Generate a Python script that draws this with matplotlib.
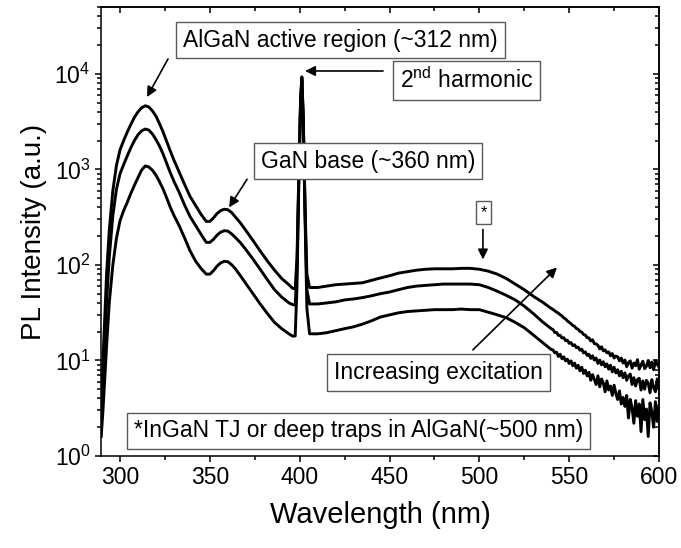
"""PL spectra of AlGaN structure vs excitation (log scale)"""
import numpy as np
import matplotlib
matplotlib.use('Agg')
import matplotlib.pyplot as plt
from matplotlib.ticker import MultipleLocator, LogLocator, NullFormatter

plt.rcParams['font.family'] = ['Liberation Sans', 'DejaVu Sans']
plt.rcParams['mathtext.fontset'] = 'custom'
plt.rcParams['mathtext.rm'] = 'Liberation Sans'
plt.rcParams['mathtext.it'] = 'Liberation Sans:italic'
plt.rcParams['mathtext.bf'] = 'Liberation Sans:bold'

# wavelength grid (nm), smooth part
wl_main = [289.5, 290.5, 291.5, 292.5, 294, 296, 298, 300, 302, 304, 306, 308,
           310, 312, 314, 316, 318, 320, 322, 324, 326, 328, 330, 333, 336,
           339, 342, 345, 348, 350, 352, 354, 356, 358, 360, 362, 364, 367,
           370, 374, 378, 382, 386, 390, 394, 396, 397.5, 398.5, 399.5, 400.5,
           401.2, 402, 403, 404, 405.5, 410, 415, 420, 425, 430, 435, 440,
           445, 450, 455, 460, 465, 470, 475, 480, 485, 490, 495, 500, 505,
           510, 515, 520, 525, 530, 535, 540]
# noisy tail 541..600 nm, 1 nm steps
wl_tail = list(np.arange(541, 601))

high_main = [3.5, 10, 30, 80, 230, 600, 1100, 1600, 2000, 2450, 2950, 3500,
             4000, 4400, 4630, 4500, 4100, 3600, 3000, 2450, 1950, 1550, 1250,
             930, 690, 520, 420, 340, 285, 285, 310, 345, 370, 382, 378, 355,
             320, 275, 230, 180, 140, 110, 88, 72, 62, 57, 56, 120, 900, 5500,
             9300, 3500, 400, 80, 58, 58, 60, 62, 63, 64, 65, 69, 73, 77, 82,
             85, 88, 90, 91, 91, 91, 92, 92, 90, 86, 80, 72, 63, 55, 47, 41, 35]
high_tail = [34.2, 33.0, 32.1, 31.2, 30.1, 29.2, 27.9, 27.2, 25.9, 25.1,
             24.3, 23.2, 22.8, 21.6, 21.2, 20.1, 19.8, 18.7, 18.4, 17.3,
             17.2, 16.0, 16.5, 15.0, 14.9, 14.4, 13.2, 13.9, 12.6, 12.9,
             12.0, 12.3, 11.2, 11.8, 10.6, 11.1, 10.9, 9.9, 10.6, 9.4,
             10.1, 8.6, 9.5, 9.9, 8.3, 9.4, 8.8, 10.2, 8.1, 9.0,
             9.8, 8.2, 8.7, 10.0, 8.4, 9.6, 8.0, 9.9, 9.3, 8.5]

mid_main = [2.5, 6, 16, 40, 120, 330, 620, 900, 1120, 1380, 1680, 2000,
            2300, 2530, 2640, 2580, 2350, 2050, 1750, 1440, 1150, 920, 750,
            570, 420, 320, 260, 210, 172, 172, 185, 205, 220, 228, 226, 212,
            195, 171, 145, 115, 90, 70, 55, 46, 40, 38.5, 38, 90, 800, 5200,
            9000, 3300, 350, 55, 39, 39, 40, 41, 43, 44, 45.5, 47.5, 50, 52,
            55, 58, 60, 61, 62, 63, 63, 63, 63, 62, 58, 53, 48, 43, 37, 31,
            25.5, 21.5]
mid_tail = [21.0, 19.6, 19.6, 18.3, 18.3, 17.2, 17.3, 16.1, 16.3, 15.1,
            15.4, 14.3, 14.6, 13.6, 13.8, 12.8, 13.1, 12.0, 12.3, 11.3,
            11.6, 10.5, 11.2, 10.1, 10.6, 9.3, 10.1, 9.0, 9.7, 8.6,
            9.2, 8.1, 8.9, 7.6, 8.5, 7.4, 8.0, 6.9, 7.7, 6.6,
            7.4, 6.2, 6.9, 7.2, 5.6, 6.6, 5.4, 6.3, 6.5, 4.9,
            6.1, 5.0, 6.2, 5.8, 4.6, 6.3, 5.2, 4.7, 6.4, 5.1]

low_main = [1.6, 3, 6.5, 14, 40, 100, 190, 290, 370, 450, 560, 680,
            820, 980, 1086, 1060, 980, 870, 740, 620, 500, 400, 330, 255,
            190, 140, 110, 92, 80, 80, 87, 97, 105, 109, 108, 101, 92, 77,
            64, 50, 39, 31, 25, 21.5, 19, 18, 18, 60, 700, 4900, 8600, 3100,
            300, 35, 19, 19, 19.5, 20.5, 21.5, 22.5, 24, 26, 28.5, 30, 31.5,
            32.5, 33, 33.5, 34, 34, 34, 34.5, 34, 34, 32, 30, 28, 25, 22,
            18.5, 15.5, 13]
low_tail = [12.9, 12.0, 12.2, 11.0, 11.6, 10.4, 10.9, 9.9, 10.3, 9.3,
            9.9, 8.8, 9.4, 8.3, 8.9, 7.8, 8.5, 7.3, 7.9, 6.9,
            7.5, 6.2, 7.1, 6.3, 5.6, 6.9, 5.3, 6.4, 5.8, 4.7,
            6.1, 4.9, 5.4, 4.3, 5.5, 4.5, 3.9, 4.8, 3.5, 4.1,
            3.3, 4.3, 2.5, 3.9, 3.2, 2.2, 3.8, 2.6, 3.5, 1.8,
            3.9, 2.4, 3.1, 1.6, 3.6, 2.9, 2.0, 3.7, 2.3, 3.4]


def plot_spectra():
    fig = plt.figure(figsize=(6.81, 5.48), dpi=100)
    ax = fig.add_axes([0.1483, 0.1679, 0.8194, 0.8193])

    wl = wl_main + wl_tail
    for s_main, s_tail in [(low_main, low_tail), (mid_main, mid_tail),
                           (high_main, high_tail)]:
        ax.plot(wl, s_main + s_tail, color='k', lw=2.1, zorder=2)

    ax.set_yscale('log')
    ax.set_xlim(289.4, 600)
    ax.set_ylim(1, 5e4)
    ax.xaxis.set_major_locator(MultipleLocator(50))
    ax.xaxis.set_minor_locator(MultipleLocator(25))
    ax.yaxis.set_major_locator(LogLocator(base=10))
    ax.yaxis.set_minor_locator(LogLocator(base=10, subs=range(2, 10)))
    ax.yaxis.set_minor_formatter(NullFormatter())
    ax.tick_params(which='both', direction='out', width=1.1, labelsize=16.5,
                   top=False, right=False)
    ax.tick_params(which='major', length=4.5, pad=3)
    ax.tick_params(which='minor', length=2.8)
    for sp in ax.spines.values():
        sp.set_linewidth(1.1)

    # mirrored axes with inward ticks
    top = ax.secondary_xaxis('top')
    top.xaxis.set_major_locator(MultipleLocator(50))
    top.xaxis.set_minor_locator(MultipleLocator(25))
    top.tick_params(which='both', direction='in', width=1.1, labeltop=False)
    top.tick_params(which='major', length=4.5)
    top.tick_params(which='minor', length=2.8)
    right = ax.secondary_yaxis('right')
    right.yaxis.set_major_locator(LogLocator(base=10))
    right.yaxis.set_minor_locator(LogLocator(base=10, subs=range(2, 10)))
    right.tick_params(which='both', direction='in', width=1.1, labelright=False)
    right.tick_params(which='major', length=4.5)
    right.tick_params(which='minor', length=2.8)
    for sec in (top, right):
        for sp in sec.spines.values():
            sp.set_linewidth(1.1)

    ax.set_xlabel('Wavelength (nm)', fontsize=21, labelpad=8)
    ax.set_ylabel('PL Intensity (a.u.)', fontsize=20, labelpad=5)

    box = dict(boxstyle='square,pad=0.3', fc='white', ec='0.35', lw=1)
    arw = dict(arrowstyle='-|>', color='k', lw=1.2, mutation_scale=15,
               shrinkA=0, shrinkB=0)
    fs = 16.5

    ax.text(0.429, 0.9265, 'AlGaN active region (~312 nm)', transform=ax.transAxes,
            ha='center', va='center', fontsize=fs, bbox=box, zorder=5)
    ax.annotate('', xy=(315.0, 5710), xytext=(326.7, 14300), arrowprops=arw, zorder=6)

    ax.text(0.655, 0.8363, r'2$^{\mathrm{nd}}$ harmonic', transform=ax.transAxes,
            ha='center', va='center', fontsize=fs, bbox=box, zorder=5)
    ax.annotate('', xy=(403.0, 10700), xytext=(446.4, 10700), arrowprops=arw, zorder=6)

    ax.text(0.4785, 0.657, 'GaN base (~360 nm)', transform=ax.transAxes,
            ha='center', va='center', fontsize=fs, bbox=box, zorder=5)
    ax.annotate('', xy=(360.7, 400), xytext=(370.7, 787), arrowprops=arw, zorder=6)

    ax.text(0.686, 0.5423, '*', transform=ax.transAxes, ha='center', va='center',
            fontsize=12, bbox=dict(boxstyle='square,pad=0.25', fc='white',
                                   ec='0.35', lw=1), zorder=5)
    ax.annotate('', xy=(502.0, 114), xytext=(502.0, 235), arrowprops=arw, zorder=6)

    ax.text(0.605, 0.186, 'Increasing excitation', transform=ax.transAxes,
            ha='center', va='center', fontsize=fs, bbox=box, zorder=5)
    ax.annotate('', xy=(543.2, 94), xytext=(496.4, 12.9), arrowprops=arw, zorder=6)

    ax.text(0.4615, 0.0557, '*InGaN TJ or deep traps in AlGaN(~500 nm)',
            transform=ax.transAxes, ha='center', va='center', fontsize=fs,
            bbox=box, zorder=5)
    return fig


fig = plot_spectra()
fig.savefig('out.png', dpi=100)
